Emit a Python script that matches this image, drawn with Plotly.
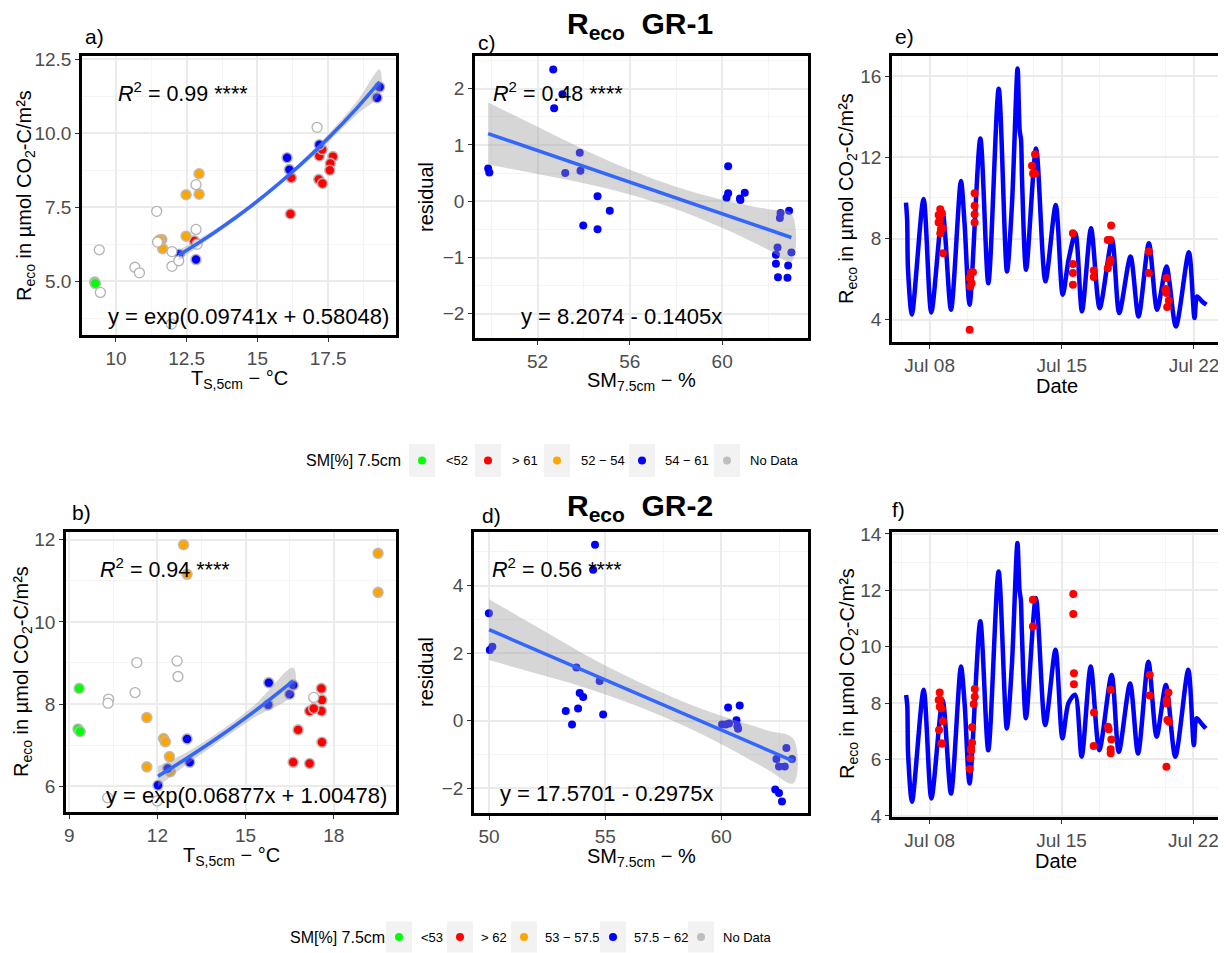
import math
import plotly.graph_objects as go

# page pixels of the reference; the html body adds an 8 px margin round the figure
PAGE_W, PAGE_H = 1226, 953
OFF = 8
W, H = PAGE_W - OFF, PAGE_H - OFF

# ---------------- data ----------------
# soil-moisture classes used for colouring
gr1_labels = ["<52", "> 61", "52 − 54", "54 − 61", "No Data"]
gr2_labels = ["<53", "> 62", "53 − 57.5", "57.5 − 62", "No Data"]
cls_codes = ["g", "r", "o", "b", "n"]
cls_colors = ["#00FF00", "#FF0000", "#FFA500", "#0000FF", "#BEBEBE"]

# a) GR-1  Reco vs soil temperature
a_ts = [9.25, 9.27,
        9.41, 9.45, 10.67, 10.83, 11.44, 11.47, 11.98, 11.98, 12.22, 11.96, 12.83, 12.83, 17.11, 12.87,
        11.62, 11.65, 11.53, 12.48, 12.94, 12.94, 12.48,
        12.24, 12.83, 16.05, 16.13, 17.19, 19.32, 19.23,
        16.17, 16.20, 17.19, 17.29, 17.17, 17.30, 17.67, 17.58, 17.56, 12.77]
a_reco = [4.97, 4.92,
          6.06, 4.62, 5.47, 5.28, 7.36, 6.32, 6.00, 5.50, 5.69, 3.55, 8.26, 6.75, 10.20, 6.25,
          6.41, 6.10, 6.39, 7.92, 8.63, 7.94, 6.52,
          5.91, 5.73, 9.17, 8.77, 9.61, 11.56, 11.20,
          7.27, 8.49, 9.23, 9.45, 8.44, 8.30, 9.21, 8.98, 8.75, 6.36]
a_cls = ["g"] * 2 + ["n"] * 14 + ["o"] * 7 + ["b"] * 7 + ["r"] * 10
a_coef = [0.09741, 0.58048]
a_band_x = [12.22, 13.5, 15.0, 16.5, 17.5, 18.5, 19.32]
a_band_hw = [0.17, 0.10, 0.08, 0.09, 0.13, 0.22, 0.42]

# b) GR-2  Reco vs soil temperature
b_ts = [9.34, 9.30, 9.37,
        10.34, 10.32, 11.24, 11.30, 12.67, 12.70, 10.31, 11.99, 17.32,
        12.89, 13.01, 19.51, 19.51, 11.64, 11.64, 12.21, 12.27, 12.41, 12.44,
        13.01, 13.10, 12.02, 12.35, 15.79, 15.77, 16.50, 16.62,
        17.58, 17.60, 17.58, 17.60, 17.18, 17.32, 16.79, 16.62, 17.18]
b_reco = [8.38, 7.39, 7.33,
          8.12, 8.02, 8.28, 9.01, 9.05, 8.67, 5.72, 5.64, 8.16,
          11.88, 11.16, 11.67, 10.72, 7.67, 6.47, 7.16, 7.08, 6.72, 6.35,
          7.15, 6.58, 6.02, 6.43, 8.52, 7.98, 8.24, 8.46,
          8.38, 8.10, 7.83, 7.07, 7.83, 7.89, 7.37, 6.58, 6.55]
b_cls = ["g"] * 3 + ["n"] * 9 + ["o"] * 10 + ["b"] * 8 + ["r"] * 9
b_coef = [0.06877, 1.00478]
b_band_x = [12.02, 13.0, 14.0, 15.3, 16.62]
b_band_hw = [0.25, 0.15, 0.12, 0.15, 0.32]

# c) GR-1  residual vs soil moisture
c_sm = [49.86, 49.91, 52.68, 53.08, 52.72, 53.20, 53.83, 53.86, 53.98, 54.60, 54.60, 55.13,
        60.26, 60.26, 60.19, 60.77, 60.79, 60.98, 62.53, 62.50, 62.90, 62.40, 62.33, 62.33,
        63.00, 62.86, 62.42, 62.83]
c_res = [0.58, 0.51, 2.34, 1.90, 1.65, 0.50, 0.86, 0.54, -0.43, 0.09, -0.50, -0.17,
         0.62, 0.14, 0.06, 0.05, 0.02, 0.15, -0.21, -0.30, -0.17, -0.82, -0.95, -1.11,
         -0.91, -1.14, -1.35, -1.36]
c_coef = [8.2074, -0.1405]
c_band_x = [49.86, 52, 54, 56, 58, 60, 62, 63.0]
c_band_hw = [0.55, 0.42, 0.30, 0.22, 0.20, 0.25, 0.36, 0.43]

# d) GR-2  residual vs soil moisture
d_sm = [49.99, 50.03, 50.14, 54.56, 54.48, 53.76, 53.30, 53.57, 53.83, 53.90, 54.05, 54.76,
        54.91, 60.29, 60.79, 60.03, 60.19, 60.33, 60.65, 60.69, 60.72, 62.37, 62.48, 62.73,
        62.80, 63.04, 62.32, 62.48, 62.61]
d_res = [3.18, 2.09, 2.19, 5.21, 4.47, 1.57, 0.28, -0.12, 0.36, 0.82, 0.70, 1.17,
         0.18, 0.39, 0.45, -0.12, -0.12, -0.09, 0.01, -0.17, -0.24, -1.14, -1.36, -1.36,
         -0.81, -1.14, -2.04, -2.15, -2.40]
d_coef = [17.5701, -0.2975]
d_band_x = [50.0, 52, 54, 56, 58, 60, 62, 63.1]
d_band_hw = [0.90, 0.70, 0.50, 0.38, 0.35, 0.42, 0.58, 0.66]

# e) / f) modelled Reco time series (GR-1, GR-2)
line_time = ["2021-07-06 18:00", "2021-07-06 19:30", "2021-07-06 20:30", "2021-07-07 01:30",
             "2021-07-07 16:20", "2021-07-08 02:10", "2021-07-08 16:30", "2021-07-09 03:10",
             "2021-07-09 15:50", "2021-07-09 20:30", "2021-07-10 02:50", "2021-07-10 16:30",
             "2021-07-11 02:40", "2021-07-11 15:50", "2021-07-12 02:20", "2021-07-12 08:40",
             "2021-07-12 15:50", "2021-07-12 18:30", "2021-07-12 20:10", "2021-07-12 21:30",
             "2021-07-13 02:40", "2021-07-13 15:20", "2021-07-14 03:10", "2021-07-14 16:20",
             "2021-07-15 01:10", "2021-07-15 08:50", "2021-07-15 17:20", "2021-07-16 01:40",
             "2021-07-16 13:10", "2021-07-17 00:10", "2021-07-17 15:50", "2021-07-18 01:00",
             "2021-07-18 15:20", "2021-07-19 01:30", "2021-07-19 14:40", "2021-07-20 01:10",
             "2021-07-20 13:00", "2021-07-21 01:00", "2021-07-21 17:30", "2021-07-22 00:40",
             "2021-07-22 04:00", "2021-07-22 10:20", "2021-07-22 15:50"]
e_line = [9.77, 8.9, 6.54, 4.25, 9.95, 4.36, 9.3, 4.49, 10.84, 8.7, 4.74, 12.93, 5.80, 15.39,
          6.38, 9.66, 16.38, 13.3, 12.9, 10.9, 6.46, 12.44, 5.89, 9.66, 5.23, 7.0, 8.26, 4.41,
          8.51, 4.57, 7.93, 4.33, 7.11, 4.16, 7.77, 4.49, 6.62, 3.67, 7.33, 4.08, 5.15, 4.9, 4.74]
f_line = [8.29, 7.9, 6.2, 4.5, 8.47, 4.62, 8.1, 4.79, 9.3, 8.0, 5.15, 10.9, 6.33, 12.67,
          7.1, 9.3, 13.68, 12.0, 11.67, 10.5, 7.46, 11.73, 7.22, 9.89, 6.75, 8.0, 8.3, 6.1,
          9.3, 6.33, 9.0, 6.27, 8.7, 6.21, 9.47, 6.81, 8.64, 6.1, 9.18, 6.51, 7.46, 7.28, 7.1]

# measured chamber fluxes
e_meas_time = ["2021-07-08 11:27", "2021-07-08 13:34", "2021-07-08 15:41", "2021-07-08 12:43",
               "2021-07-08 11:27", "2021-07-08 14:25", "2021-07-08 16:58", "2021-07-08 13:34",
               "2021-07-08 16:58",
               "2021-07-10 02:53", "2021-07-10 02:53", "2021-07-10 03:43", "2021-07-10 04:34",
               "2021-07-10 05:25", "2021-07-10 07:07", "2021-07-10 09:14", "2021-07-10 09:14",
               "2021-07-10 09:14", "2021-07-10 09:14",
               "2021-07-13 10:10", "2021-07-13 11:27", "2021-07-13 14:00", "2021-07-13 14:00",
               "2021-07-15 14:07", "2021-07-15 14:07", "2021-07-15 14:07", "2021-07-15 14:07",
               "2021-07-16 16:38", "2021-07-16 16:38",
               "2021-07-17 10:26", "2021-07-17 10:26", "2021-07-17 12:59", "2021-07-17 13:50",
               "2021-07-17 13:50", "2021-07-17 14:40",
               "2021-07-19 14:35", "2021-07-19 14:35",
               "2021-07-20 11:47", "2021-07-20 12:13", "2021-07-20 13:03", "2021-07-20 13:03",
               "2021-07-20 13:55", "2021-07-20 16:02"]
e_meas = [9.16, 9.44, 9.25, 8.92, 8.79, 8.46, 8.51, 8.26, 7.28,
          3.51, 6.05, 5.64, 6.33, 5.80, 6.34, 10.23, 9.62, 9.20, 8.79,
          11.59, 11.21, 11.21, 12.16,
          8.26, 6.74, 6.30, 5.72,
          6.43, 6.10,
          7.93, 6.54, 6.79, 7.93, 6.95, 8.64,
          7.36, 6.30,
          5.44, 5.51, 6.05, 5.31, 4.62, 4.95]

f_meas_time = ["2021-07-08 12:46", "2021-07-08 11:29", "2021-07-08 13:37", "2021-07-08 12:46",
               "2021-07-08 14:54", "2021-07-08 11:54", "2021-07-08 17:01", "2021-07-08 15:44",
               "2021-07-08 14:54",
               "2021-07-10 06:03", "2021-07-10 06:03", "2021-07-10 04:46", "2021-07-10 04:46",
               "2021-07-10 03:55", "2021-07-10 03:04", "2021-07-10 09:27", "2021-07-10 09:27",
               "2021-07-10 08:10",
               "2021-07-13 11:30", "2021-07-13 11:30",
               "2021-07-15 14:59", "2021-07-15 14:59", "2021-07-15 15:50", "2021-07-15 15:50",
               "2021-07-16 17:21", "2021-07-16 16:56",
               "2021-07-17 11:14", "2021-07-17 12:05", "2021-07-17 14:38", "2021-07-17 15:29",
               "2021-07-17 14:38", "2021-07-17 14:38",
               "2021-07-19 16:25", "2021-07-19 16:25",
               "2021-07-20 14:08", "2021-07-20 14:08", "2021-07-20 16:15", "2021-07-20 14:58",
               "2021-07-20 17:07", "2021-07-20 13:42"]
f_meas = [8.38, 8.11, 8.11, 7.87, 7.82, 7.05, 7.36, 6.57, 6.57,
          7.14, 6.59, 6.39, 6.33, 6.04, 5.66, 8.50, 8.23, 7.97,
          11.67, 10.72,
          11.87, 11.16, 9.06, 8.67,
          7.67, 6.48,
          7.16, 7.07, 8.47, 6.71, 6.36, 6.22,
          9.00, 8.27,
          8.11, 7.99, 8.38, 7.40, 7.34, 5.74]

# ---------------- figure ----------------
FONT = "Liberation Sans, Arial, sans-serif"
TICK_SIZE = 19
TITLE_SIZE = 20
fig = go.Figure()


def px(x):
    return (x - OFF) / W


def py(y):
    return 1 - (y - OFF) / H


def dom_x(l, r):
    return [px(l), px(r)]


def dom_y(t, b):
    return [py(b), py(t)]


def axis(dom, rng, dtick, minor_dtick, **kw):
    d = dict(domain=dom, range=rng, dtick=dtick, showline=True, linecolor="black",
             linewidth=2.5, mirror=True, ticks="outside", ticklen=4, tickwidth=1.2,
             tickcolor="#333333", tickfont=dict(size=TICK_SIZE, color="#4D4D4D", family=FONT),
             showgrid=True, gridcolor="#EBEBEB", gridwidth=1.6, zeroline=False,
             minor=dict(dtick=minor_dtick, showgrid=True, gridcolor="#F4F4F4", gridwidth=1),
             automargin=False, fixedrange=True)
    d.update(kw)
    return d


def temp_panel(n, ts, reco, cls, coef, bx, bhw):
    xa, ya = "x" + n, "y" + n
    for code, col in zip(cls_codes, cls_colors):
        xs = [t for t, c in zip(ts, cls) if c == code]
        ys = [r for r, c in zip(reco, cls) if c == code]
        if code == "n":
            mk = dict(size=10, color="white", line=dict(color="#B3B3B3", width=1.3))
        else:
            mk = dict(size=10, color=col, line=dict(color="rgba(185,185,185,0.9)", width=1.6))
        fig.add_trace(go.Scatter(x=xs, y=ys, mode="markers", marker=mk, xaxis=xa, yaxis=ya,
                                 showlegend=False, hoverinfo="skip"))
    # fitted exponential model printed on the panel, with its confidence band
    fit = [math.exp(coef[0] * x + coef[1]) for x in bx]
    up = [f + h for f, h in zip(fit, bhw)]
    lo = [f - h for f, h in zip(fit, bhw)]
    fig.add_trace(go.Scatter(x=bx + bx[::-1], y=up + lo[::-1], fill="toself",
                             fillcolor="rgba(153,153,153,0.4)", line=dict(width=0, shape="spline"),
                             mode="lines", xaxis=xa, yaxis=ya, showlegend=False, hoverinfo="skip"))
    fig.add_trace(go.Scatter(x=bx, y=fit, mode="lines",
                             line=dict(color="#3366FF", width=3.5, shape="spline"),
                             xaxis=xa, yaxis=ya, showlegend=False, hoverinfo="skip"))


def resid_panel(n, sm, res, coef, bx, bhw):
    xa, ya = "x" + n, "y" + n
    fig.add_trace(go.Scatter(x=sm, y=res, mode="markers", marker=dict(size=8, color="#0000FF"),
                             xaxis=xa, yaxis=ya, showlegend=False, hoverinfo="skip"))
    fit = [coef[0] + coef[1] * x for x in bx]
    up = [f + h for f, h in zip(fit, bhw)]
    lo = [f - h for f, h in zip(fit, bhw)]
    fig.add_trace(go.Scatter(x=bx + bx[::-1], y=up + lo[::-1], fill="toself",
                             fillcolor="rgba(153,153,153,0.4)", line=dict(width=0, shape="spline"),
                             mode="lines", xaxis=xa, yaxis=ya, showlegend=False, hoverinfo="skip"))
    fig.add_trace(go.Scatter(x=[bx[0], bx[-1]], y=[fit[0], fit[-1]], mode="lines",
                             line=dict(color="#3366FF", width=3.5),
                             xaxis=xa, yaxis=ya, showlegend=False, hoverinfo="skip"))


def series_panel(n, times, line, mt, meas):
    xa, ya = "x" + n, "y" + n
    fig.add_trace(go.Scatter(x=times, y=line, mode="lines",
                             line=dict(color="#0000FF", width=4.5, shape="spline", smoothing=0.8),
                             xaxis=xa, yaxis=ya, showlegend=False, hoverinfo="skip"))
    fig.add_trace(go.Scatter(x=mt, y=meas, mode="markers", marker=dict(size=8, color="#FF0000"),
                             xaxis=xa, yaxis=ya, showlegend=False, hoverinfo="skip"))


temp_panel("", a_ts, a_reco, a_cls, a_coef, a_band_x, a_band_hw)
resid_panel("2", c_sm, c_res, c_coef, c_band_x, c_band_hw)
series_panel("3", line_time, e_line, e_meas_time, e_meas)
temp_panel("4", b_ts, b_reco, b_cls, b_coef, b_band_x, b_band_hw)
resid_panel("5", d_sm, d_res, d_coef, d_band_x, d_band_hw)
series_panel("6", line_time, f_line, f_meas_time, f_meas)

DAY = 86400000
date_kw = dict(type="date", tickformat="%b %d", tick0="2021-07-08")

fig.update_layout(
    width=W, height=H, margin=dict(l=0, r=0, t=0, b=0, autoexpand=False),
    paper_bgcolor="white", plot_bgcolor="white", showlegend=False,
    font=dict(family=FONT, color="black"),
    xaxis=axis(dom_x(82, 396), [8.8, 19.9], 2.5, 1.25, anchor="y"),
    yaxis=axis(dom_y(56, 335), [3.18, 12.61], 2.5, 1.25, anchor="x", tickformat=".1f"),
    xaxis2=axis(dom_x(475, 808), [49.29, 63.72], 4, 2, anchor="y2"),
    yaxis2=axis(dom_y(56, 338), [-2.43, 2.58], 1, 0.5, anchor="x2"),
    xaxis3=axis(dom_x(892, 1221), ["2021-07-06 00:14", "2021-07-23 10:20"], 7 * DAY, 3.5 * DAY,
                anchor="y3", **date_kw),
    yaxis3=axis(dom_y(56, 342), [2.90, 17.0], 4, 2, anchor="x3"),
    xaxis4=axis(dom_x(66, 396), [8.89, 20.12], 3, 1.5, anchor="y4"),
    yaxis4=axis(dom_y(532, 812), [5.37, 12.19], 2, 1, anchor="x4"),
    xaxis5=axis(dom_x(474, 808), [49.35, 63.73], 5, 2.5, anchor="y5"),
    yaxis5=axis(dom_y(532, 813), [-2.74, 5.59], 2, 1, anchor="x5"),
    xaxis6=axis(dom_x(892, 1219), ["2021-07-06 00:00", "2021-07-23 08:40"], 7 * DAY, 3.5 * DAY,
                anchor="y6", **date_kw),
    yaxis6=axis(dom_y(532, 817), [3.96, 14.07], 2, 1, anchor="x6"),
)

ann = []


def text(s, x, y, size, xanchor="left", yanchor="middle", angle=0, color="black"):
    ann.append(dict(text=s, x=px(x), y=py(y), xref="paper", yref="paper", showarrow=False,
                    xanchor=xanchor, yanchor=yanchor, textangle=angle,
                    font=dict(size=size, color=color, family=FONT)))


# panel tags
for tag, x, y in [("a)", 83, 37), ("c)", 476, 43), ("e)", 893, 37),
                  ("b)", 70, 512), ("d)", 480, 515), ("f)", 890, 509)]:
    text(tag, x, y, 21)

# titles
text("<b>R<sub>eco</sub>  GR-1</b>", 640, 25, 30, xanchor="center")
text("<b>R<sub>eco</sub>  GR-2</b>", 640, 507, 30, xanchor="center")

# regression annotations
text("<i>R</i><sup>2</sup> = 0.99 ****", 116, 92, 21.5)
text("y = exp(0.09741x + 0.58048)", 391, 317, 22, xanchor="right")
text("<i>R</i><sup>2</sup> = 0.48 ****", 491, 92, 21.5)
text("y = 8.2074 - 0.1405x", 519, 317, 22)
text("<i>R</i><sup>2</sup> = 0.94 ****", 98, 568, 21.5)
text("y = exp(0.06877x + 1.00478)", 389, 795, 22, xanchor="right")
text("<i>R</i><sup>2</sup> = 0.56 ****", 490, 568, 21.5)
text("y = 17.5701 - 0.2975x", 498, 793, 22)

# axis titles
ytitle = "R<sub>eco</sub> in µmol CO<sub>2</sub>-C/m²s"
text("T<sub>S,5cm</sub> − °C", 239, 380, TITLE_SIZE, xanchor="center")
text("SM<sub>7.5cm</sub> − %", 641, 381, TITLE_SIZE, xanchor="center")
text("Date", 1057, 386, TITLE_SIZE, xanchor="center")
text("T<sub>S,5cm</sub> − °C", 231, 856, TITLE_SIZE, xanchor="center")
text("SM<sub>7.5cm</sub> − %", 641, 857, TITLE_SIZE, xanchor="center")
text("Date", 1056, 861, TITLE_SIZE, xanchor="center")
text(ytitle, 25, 196, TITLE_SIZE, xanchor="center", angle=-90)
text("residual", 426, 197, TITLE_SIZE, xanchor="center", angle=-90)
text(ytitle, 847, 199, TITLE_SIZE, xanchor="center", angle=-90)
text(ytitle, 22, 672, TITLE_SIZE, xanchor="center", angle=-90)
text("residual", 426, 672, TITLE_SIZE, xanchor="center", angle=-90)
text(ytitle, 848, 674, TITLE_SIZE, xanchor="center", angle=-90)

# ---------------- legends (drawn as layout shapes) ----------------
shapes = []


def legend(labels, title_x, yc, key_lefts, label_lefts, key_h):
    text("SM[%] 7.5cm", title_x, yc, 16)
    for lab, kl, tl, col in zip(labels, key_lefts, label_lefts, cls_colors):
        shapes.append(dict(type="rect", xref="paper", yref="paper", x0=px(kl), x1=px(kl + 26),
                           y0=py(yc + key_h / 2), y1=py(yc - key_h / 2),
                           fillcolor="#F2F2F2", line=dict(width=0), layer="below"))
        cx = kl + 13
        shapes.append(dict(type="circle", xref="paper", yref="paper", x0=px(cx - 4), x1=px(cx + 4),
                           y0=py(yc + 4), y1=py(yc - 4),
                           fillcolor=col, line=dict(width=0)))
        text(lab, tl, yc, 13)


legend(gr1_labels, 304, 460.5, [409, 475, 544, 629, 714], [444, 510, 579, 663, 748], 33)
legend(gr2_labels, 288, 937, [386, 447, 511, 600, 688], [419, 479, 543, 632, 721], 31)

fig.update_layout(annotations=ann, shapes=shapes)
fig.write_html("out.html")
